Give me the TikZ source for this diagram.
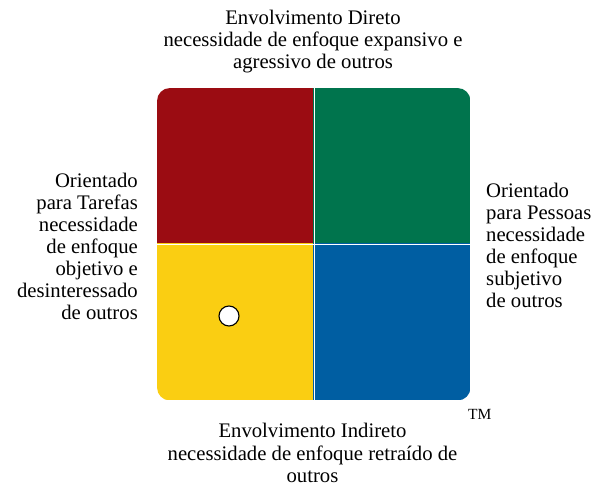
\documentclass[tikz,border=0pt]{standalone}
\usepackage{fontspec}
\setmainfont{Liberation Serif}
\definecolor{qred}{RGB}{155,12,18}
\definecolor{qgreen}{RGB}{0,116,77}
\definecolor{qyellow}{RGB}{250,206,18}
\definecolor{qblue}{RGB}{0,94,162}
\tikzset{
  lbl/.style={inner sep=0pt, font=\fontsize{20.7}{22}\selectfont},
  quad/.style={inner sep=0pt, minimum width=157pt, minimum height=156pt, draw=none},
}
\begin{document}
\begin{tikzpicture}[x=1pt,y=-1pt]
\useasboundingbox (0,0) rectangle (602,484);
\begin{scope}
  \clip[rounded corners=13pt] (157,88) rectangle (470.5,400.5);
  \node[quad, fill=qred, anchor=north west] (red) at (157,88) {};
  \node[quad, fill=qgreen, anchor=north east] (green) at (470.5,88) {};
  \node[quad, fill=qyellow, anchor=south west, minimum height=157pt] (yellow) at (157,400.5) {};
  \node[quad, fill=qblue, anchor=south east, minimum height=157pt] (blue) at (470.5,400.5) {};
\end{scope}
\draw[white, line width=1.3pt] (red.north east) -- (yellow.south east);
\draw[white, line width=1.3pt] (red.south west) -- (green.south east);
\node[circle, draw=black, fill=white, line width=1.1pt, minimum size=20pt, inner sep=0pt] (dot) at (229,316) {};
\node[lbl, align=center, anchor=base] (top) at (313,69) {Envolvimento Direto\\necessidade de enfoque expansivo e\\agressivo de outros};
\node[lbl, align=right, anchor=base east] (left) at (138,319.5) {Orientado\\para Tarefas\\necessidade\\de enfoque\\objetivo e\\desinteressado\\de outros};
\node[lbl, align=left, anchor=base west] (right) at (486,307.5) {Orientado\\para Pessoas\\necessidade\\de enfoque\\subjetivo\\de outros};
\node[lbl, align=center, anchor=base, font=\fontsize{20.7}{22.3}\selectfont] (bottom) at (312.5,482.5) {Envolvimento Indireto\\necessidade de enfoque retraído de\\outros};
\node[inner sep=0pt, anchor=base west, font=\fontsize{15.5}{17}\selectfont] (tm) at (468,419) {TM};
\end{tikzpicture}
\end{document}
